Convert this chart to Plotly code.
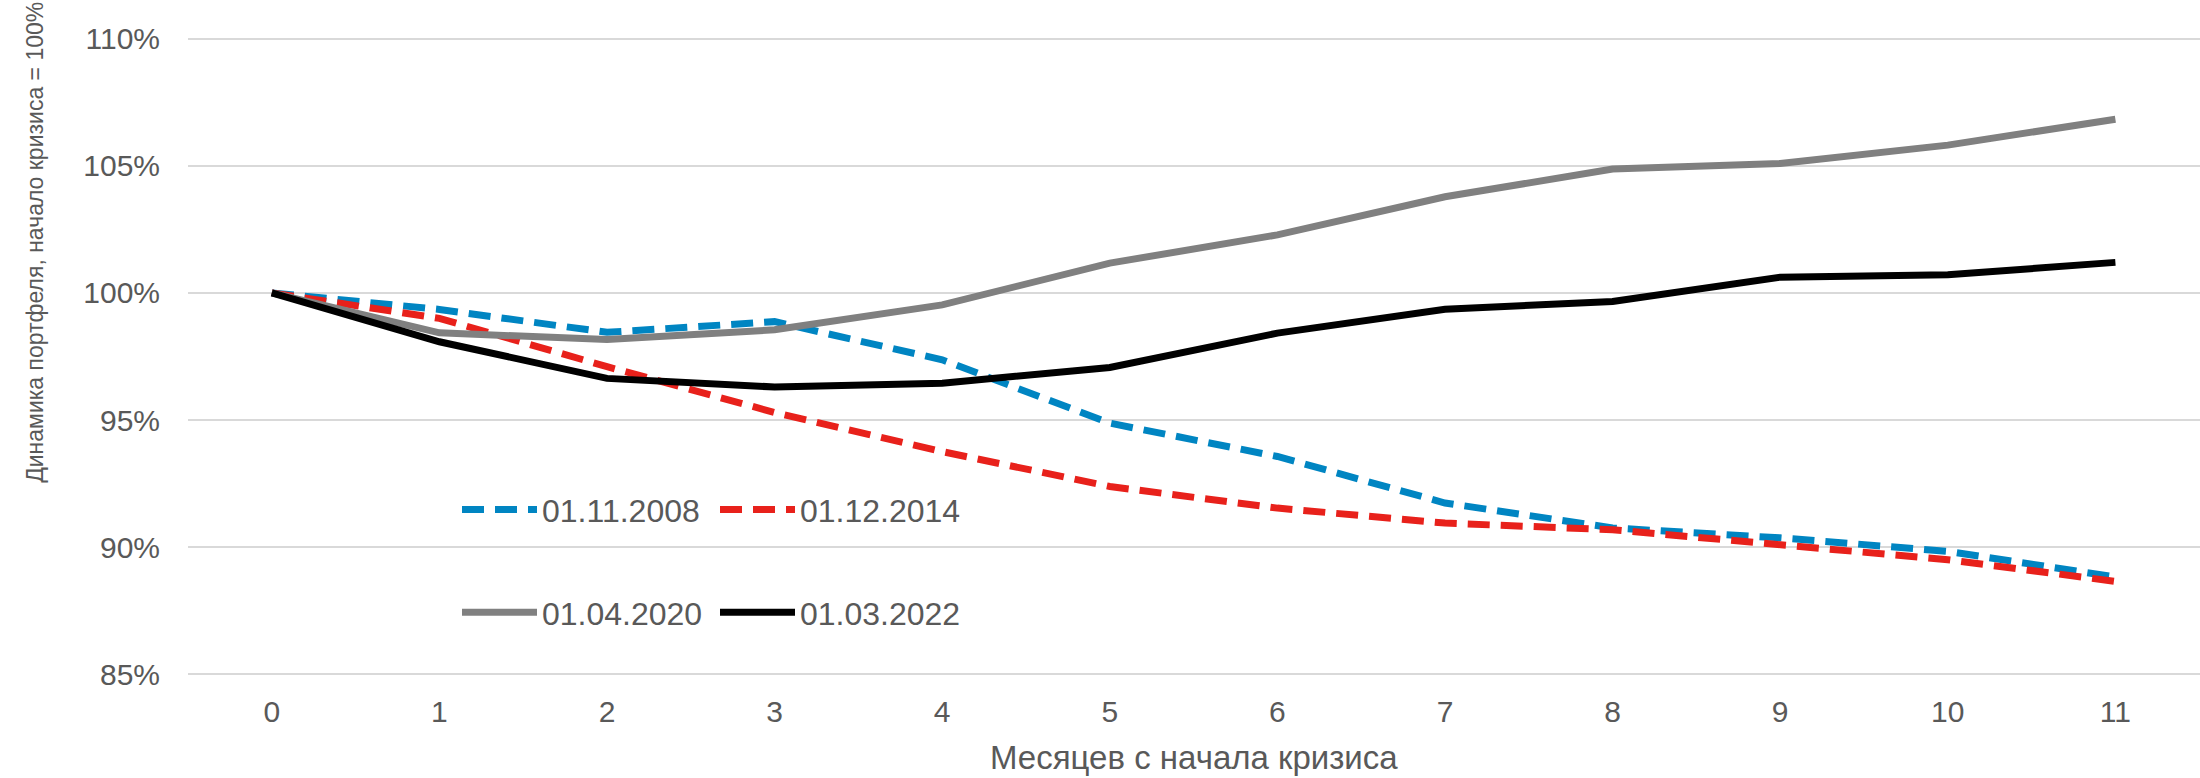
import plotly.graph_objects as go

months = list(range(12))
tick_labels = [str(m) for m in months]

s2008 = [100, 99.35, 98.45, 98.87, 97.37, 94.88, 93.57, 91.74, 90.76, 90.37, 89.84, 88.83]
s2014 = [100, 99.0, 97.1, 95.3, 93.76, 92.39, 91.54, 90.95, 90.69, 90.10, 89.51, 88.66]
s2020 = [100, 98.43, 98.17, 98.55, 99.53, 101.17, 102.28, 103.78, 104.87, 105.09, 105.81, 106.83]
s2022 = [100, 98.08, 96.64, 96.30, 96.45, 97.07, 98.42, 99.36, 99.66, 100.62, 100.71, 101.20]

names = ["01.11.2008", "01.12.2014", "01.04.2020", "01.03.2022"]
y_ticks = [85, 90, 95, 100, 105, 110]
y_tick_labels = ["85%", "90%", "95%", "100%", "105%", "110%"]

FONT = "Liberation Sans, Arial, sans-serif"
GREY_TXT = "#595959"

W, H = 2200, 778
L, R, T, B = 188, 0, 36, 100.5
PW = W - L - R
PH = H - T - B
UNIT = 167.6  # px per month in the reference
x_hi = -0.5 + PW / UNIT

def px_x(px):
    return (px - L) / PW

def px_y(py):
    return (H - B - py) / PH

fig = go.Figure()
styles = [
    dict(color="#0085C2", width=7, dash="22px,11px"),
    dict(color="#E8211B", width=7, dash="22px,11px"),
    dict(color="#808080", width=7),
    dict(color="#000000", width=7),
]
series = [s2008, s2014, s2020, s2022]
legends = ["legend", "legend2", "legend3", "legend4"]
for s, n, st, lg in zip(series, names, styles, legends):
    fig.add_trace(go.Scatter(x=months, y=s, name=n, mode="lines",
                             line=st, legend=lg))

leg_pos = [(457, 510), (715, 510), (457, 613), (715, 613)]
leg_common = dict(font=dict(family=FONT, size=32, color=GREY_TXT),
                  bgcolor="rgba(0,0,0,0)", xanchor="left", yanchor="middle",
                  itemwidth=75)
layout_legends = {}
for lg, (lx, ly) in zip(legends, leg_pos):
    layout_legends[lg] = dict(x=px_x(lx), y=px_y(ly), **leg_common)

fig.update_layout(
    width=W, height=H,
    margin=dict(l=L, r=R, t=T, b=B, pad=0),
    plot_bgcolor="white", paper_bgcolor="white",
    showlegend=True,
    font=dict(family=FONT, size=30, color=GREY_TXT),
    xaxis=dict(range=[-0.5, x_hi], tickmode="array", tickvals=months,
               ticktext=tick_labels, showgrid=False, zeroline=False,
               showline=False, ticks="", ticklabelstandoff=14,
               tickfont=dict(family=FONT, size=30, color=GREY_TXT)),
    yaxis=dict(range=[84.9, 110.1], tickmode="array", tickvals=y_ticks,
               ticktext=y_tick_labels, showgrid=True, gridcolor="#D9D9D9",
               gridwidth=2, zeroline=False, showline=False, ticks="",
               ticklabelstandoff=27,
               tickfont=dict(family=FONT, size=30, color=GREY_TXT)),
    annotations=[
        dict(text="Месяцев с начала кризиса", xref="paper", yref="paper",
             x=px_x(1194), y=px_y(758), xanchor="center", yanchor="middle",
             showarrow=False, font=dict(family=FONT, size=33, color=GREY_TXT)),
        dict(text="Динамика портфеля, начало кризиса = 100%", xref="paper",
             yref="paper", x=px_x(35), y=px_y(243), xanchor="center",
             yanchor="middle", textangle=-90, showarrow=False,
             font=dict(family=FONT, size=23, color=GREY_TXT)),
    ],
    **layout_legends,
)

# remove the browser's default 8px body margin so the figure fills the window
fig.write_html("out.html", config={"displayModeBar": False},
               post_script="document.body.style.margin='0';")
